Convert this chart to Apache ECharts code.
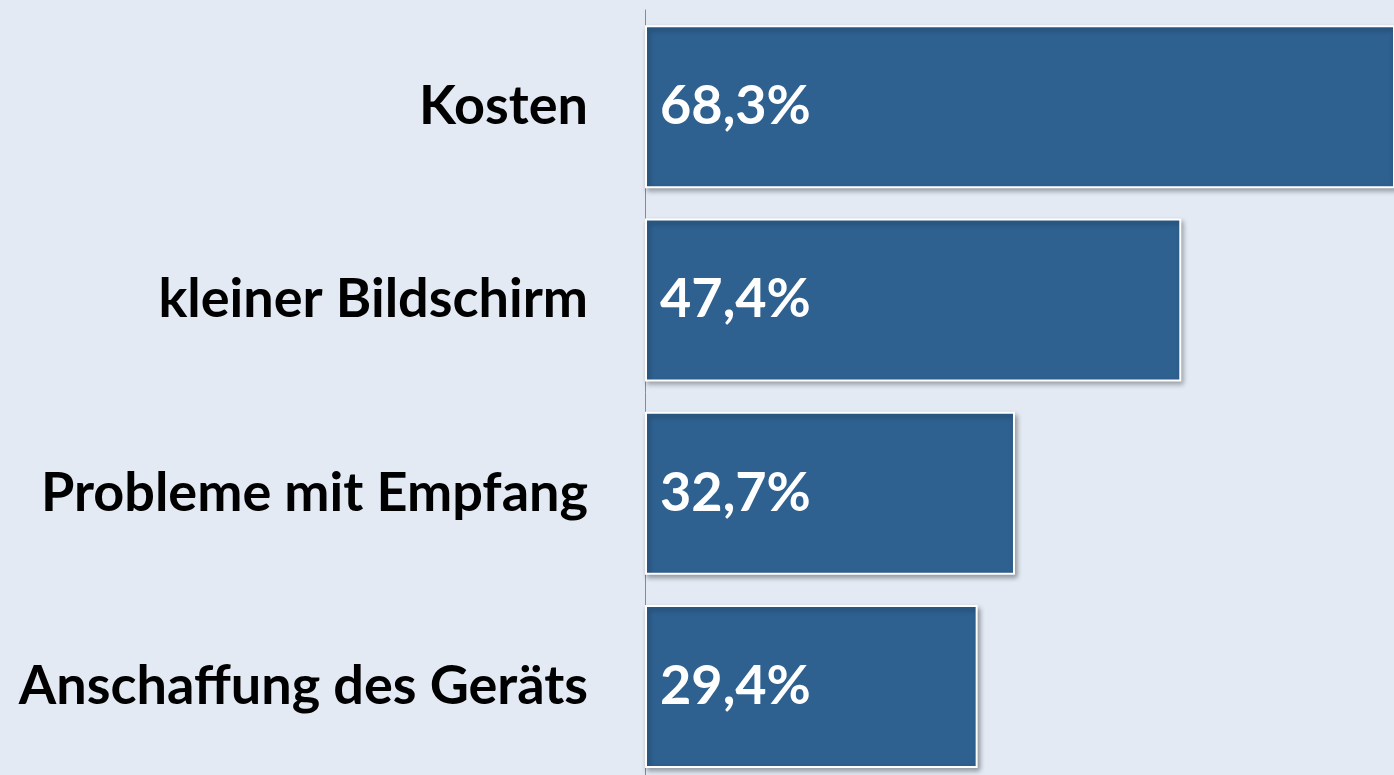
<!DOCTYPE html>
<html>
<head>
<meta charset="utf-8">
<script src="https://cdn.jsdelivr.net/npm/echarts@6/dist/echarts.min.js"></script>
<style>
html,body{margin:0;padding:0;background:#e3eaf4;}
#chart{width:1394px;height:775px;}
</style>
</head>
<body>
<div id="chart"></div>
<script>
const categories = ['Kosten', 'kleiner Bildschirm', 'Probleme mit Empfang', 'Anschaffung des Geräts'];
const values = [68.3, 47.4, 32.7, 29.4];

const chart = echarts.init(document.getElementById('chart'));
chart.setOption({
  backgroundColor: '#e3eaf4',
  animation: false,
  grid: { left: 645, width: 749, top: 10, height: 773, containLabel: false, outerBoundsMode: 'none' },
  xAxis: {
    type: 'value', min: 0, max: 66.2,
    show: false
  },
  yAxis: {
    type: 'category', data: categories, inverse: true,
    axisLine: { show: true, lineStyle: { color: '#8a8a8a', width: 1 } },
    axisTick: { show: false },
    axisLabel: {
      margin: 57, color: '#000', fontSize: 54, fontWeight: 'bold',
      fontFamily: 'Lato'
    }
  },
  series: [{
    type: 'bar',
    data: values,
    barWidth: 163,
    clip: true,
    itemStyle: {
      color: '#2e6090',
      borderColor: '#ffffff', borderWidth: 2,
      shadowColor: 'rgba(0,0,0,0.35)', shadowBlur: 5, shadowOffsetX: 2, shadowOffsetY: 3
    },
    label: {
      show: true, position: 'insideLeft', distance: 15,
      color: '#fff', fontSize: 54, fontWeight: 'bold', fontFamily: 'Lato',
      formatter: p => p.value.toFixed(1).replace('.', ',') + '%'
    }
  }]
});
</script>
</body>
</html>
